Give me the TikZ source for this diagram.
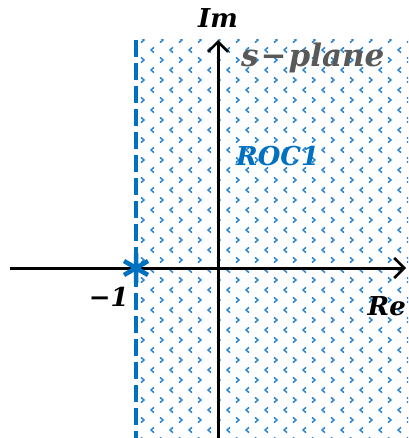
\documentclass[tikz,border=0pt]{standalone}
\usepackage{fontspec}
\setmainfont{DejaVu Serif}
\usetikzlibrary{arrows.meta}
\begin{document}
\begin{tikzpicture}[x=1pt,y=-1pt,
  chev/.style={draw={rgb,255:red,40;green,130;blue,210},line width=1.5pt,line join=round},
  axis/.style={line width=3pt,black,-{Straight Barb[length=10pt,width=20pt,line width=2.6pt]}},
  lbl/.style={font=\bfseries\itshape\fontsize{26}{26}\selectfont,inner sep=0pt}]
\useasboundingbox (0,0) rectangle (408,438);
\definecolor{rocblue}{RGB}{0,112,192}
% pattern
\begin{scope}
\clip (137,40) rectangle (408,438);
\foreach \r in {0,...,40}{
  \pgfmathsetmacro{\yy}{40+\r*10}
  \pgfmathtruncatemacro{\odd}{mod(\r,2)}
  \foreach \c in {0,...,15}{
    \ifnum\odd=0
      \pgfmathsetmacro{\xx}{141+\c*19}
      \draw[chev] (\xx,\yy-2.6) -- (\xx+3,\yy) -- (\xx,\yy+2.6);
    \else
      \pgfmathsetmacro{\xx}{151+\c*19}
      \draw[chev] (\xx+3,\yy-2.6) -- (\xx,\yy) -- (\xx+3,\yy+2.6);
    \fi
  }
}
\end{scope}
% boundary
\coordinate (bt) at (136,40);
\coordinate (bb) at (136,438);
\draw[rocblue,line width=4.5pt,dash pattern=on 17pt off 6pt] (bt) -- (bb);
% axes
\coordinate (xl) at (10,268);
\coordinate (xr) at (406,268);
\coordinate (yb) at (218,438);
\coordinate (yt) at (218,40);
\draw[axis] (xl) -- (xr);
\draw[axis] (yb) -- (yt);
% pole
\node[inner sep=0pt,minimum size=0pt] (pole) at (136,268) {};
\draw[rocblue,line width=4.5pt] (136,253) -- (136,283)
  (124,261) -- (148,275) (124,275) -- (148,261);
% labels
\node[lbl] (im) at (218,18) {Im};
\node[lbl,font=\bfseries\itshape\fontsize{31}{31}\selectfont,color={rgb,255:red,89;green,89;blue,89},anchor=west] (sp) at (241,58) {s\hspace{2pt}−\hspace{2pt}plane};
\node[lbl,rocblue,anchor=west] (roc) at (236,156) {ROC1};
\node[lbl,anchor=east] (m1) at (129,297) {−1};
\node[lbl,anchor=east] (re) at (406,306) {Re};
\end{tikzpicture}
\end{document}
